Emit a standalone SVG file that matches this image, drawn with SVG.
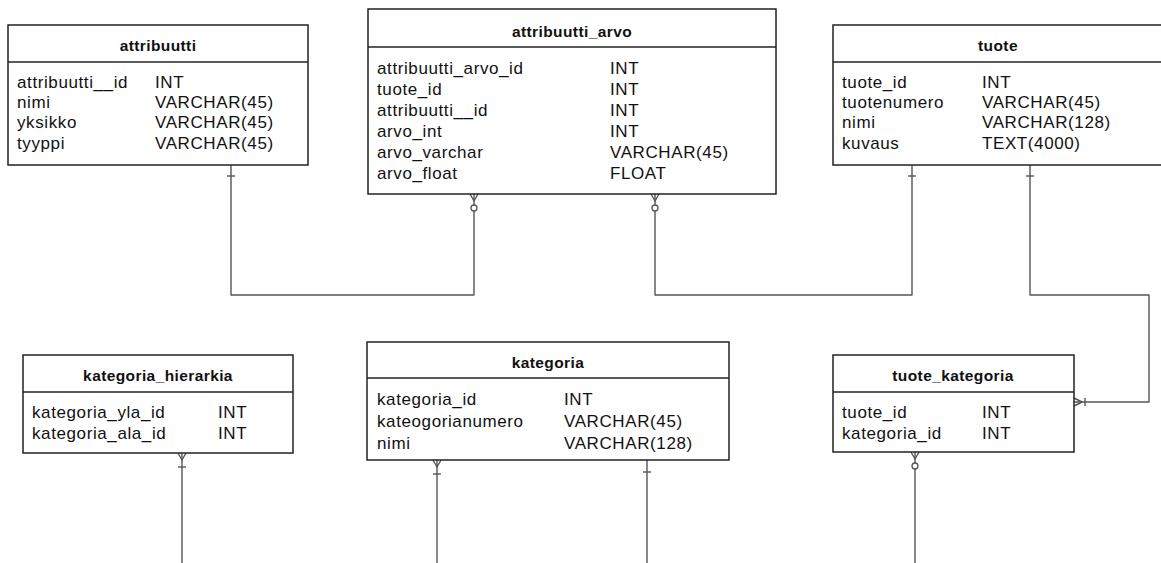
<svg xmlns="http://www.w3.org/2000/svg" width="1161" height="563" viewBox="0 0 1161 563">
  <style>
    .box { fill: #fff; stroke: #222; stroke-width: 1.5; }
    .sep { stroke: #222; stroke-width: 1.5; }
    .title { font-family: "Liberation Sans", Arial, sans-serif; font-size: 15.5px; font-weight: bold; fill: #111; text-anchor: middle; letter-spacing: 0.4px; }
    .row { font-family: "Liberation Sans", Arial, sans-serif; font-size: 17px; fill: #111; letter-spacing: 0.6px; }
    .rel { fill: none; stroke: #555; stroke-width: 1.4; stroke-linejoin: round; }
    .end { fill: #fff; stroke: #555; stroke-width: 1.3; }
  </style>

  <!-- relationships -->
  <g id="connectors">
    <!-- attribuutti 1 — N attribuutti_arvo -->
    <path class="rel" d="M231 165 V295 H474 V194"/>
    <path class="rel" d="M227 176 H235"/>
    <path class="rel" d="M470 194 L474 201 L478 194"/>
    <circle class="end" cx="474" cy="208" r="3"/>

    <!-- tuote 1 — N attribuutti_arvo -->
    <path class="rel" d="M912 165 V295 H655 V194"/>
    <path class="rel" d="M908 176 H916"/>
    <path class="rel" d="M651 194 L655 201 L659 194"/>
    <circle class="end" cx="655" cy="208" r="3"/>

    <!-- tuote 1 — N tuote_kategoria -->
    <path class="rel" d="M1030 165 V295 H1149 V402 H1074"/>
    <path class="rel" d="M1026 176 H1034"/>
    <path class="rel" d="M1074 398 L1082 402 L1074 406"/>
    <path class="rel" d="M1085 398 V406"/>

    <!-- kategoria_hierarkia -->
    <path class="rel" d="M182 453 V563"/>
    <path class="rel" d="M178 453 L182 460 L186 453"/>
    <path class="rel" d="M178 467 H186"/>

    <!-- kategoria (many side) -->
    <path class="rel" d="M437 460 V563"/>
    <path class="rel" d="M433 460 L437 467 L441 460"/>
    <path class="rel" d="M433 474 H441"/>

    <!-- kategoria (one side) -->
    <path class="rel" d="M647 460 V563"/>
    <path class="rel" d="M643 472 H651"/>

    <!-- tuote_kategoria -->
    <path class="rel" d="M915 452 V563"/>
    <path class="rel" d="M911 452 L915 459 L919 452"/>
    <circle class="end" cx="915" cy="466" r="3"/>
  </g>

  <!-- tables -->
  <g id="attribuutti">
    <rect class="box" x="8" y="25" width="300" height="140"/>
    <line class="sep" x1="8" y1="62" x2="308" y2="62"/>
    <text class="title" x="158" y="50.5">attribuutti</text>
    <text class="row" x="17" y="87.5">attribuutti__id</text>
    <text class="row" x="155" y="87.5">INT</text>
    <text class="row" x="17" y="108">nimi</text>
    <text class="row" x="155" y="108">VARCHAR(45)</text>
    <text class="row" x="17" y="128">yksikko</text>
    <text class="row" x="155" y="128">VARCHAR(45)</text>
    <text class="row" x="17" y="148.5">tyyppi</text>
    <text class="row" x="155" y="148.5">VARCHAR(45)</text>
  </g>

  <g id="attribuutti_arvo">
    <rect class="box" x="368" y="9" width="408" height="185"/>
    <line class="sep" x1="368" y1="47" x2="776" y2="47"/>
    <text class="title" x="572" y="37">attribuutti_arvo</text>
    <text class="row" x="377" y="74">attribuutti_arvo_id</text>
    <text class="row" x="610" y="74">INT</text>
    <text class="row" x="377" y="94.5">tuote_id</text>
    <text class="row" x="610" y="94.5">INT</text>
    <text class="row" x="377" y="115.5">attribuutti__id</text>
    <text class="row" x="610" y="115.5">INT</text>
    <text class="row" x="377" y="136.5">arvo_int</text>
    <text class="row" x="610" y="136.5">INT</text>
    <text class="row" x="377" y="157.5">arvo_varchar</text>
    <text class="row" x="610" y="157.5">VARCHAR(45)</text>
    <text class="row" x="377" y="179">arvo_float</text>
    <text class="row" x="610" y="179">FLOAT</text>
  </g>

  <g id="tuote">
    <rect class="box" x="833" y="25" width="331" height="140"/>
    <line class="sep" x1="833" y1="62" x2="1164" y2="62"/>
    <text class="title" x="998" y="50.5">tuote</text>
    <text class="row" x="842" y="87.5">tuote_id</text>
    <text class="row" x="982" y="87.5">INT</text>
    <text class="row" x="842" y="108">tuotenumero</text>
    <text class="row" x="982" y="108">VARCHAR(45)</text>
    <text class="row" x="842" y="128">nimi</text>
    <text class="row" x="982" y="128">VARCHAR(128)</text>
    <text class="row" x="842" y="148.5">kuvaus</text>
    <text class="row" x="982" y="148.5">TEXT(4000)</text>
  </g>

  <g id="kategoria_hierarkia">
    <rect class="box" x="23" y="355" width="270" height="98"/>
    <line class="sep" x1="23" y1="392" x2="293" y2="392"/>
    <text class="title" x="158" y="380.5">kategoria_hierarkia</text>
    <text class="row" x="32" y="417.5">kategoria_yla_id</text>
    <text class="row" x="218" y="417.5">INT</text>
    <text class="row" x="32" y="438.5">kategoria_ala_id</text>
    <text class="row" x="218" y="438.5">INT</text>
  </g>

  <g id="kategoria">
    <rect class="box" x="367" y="342" width="362" height="118"/>
    <line class="sep" x1="367" y1="378" x2="729" y2="378"/>
    <text class="title" x="548" y="367.5">kategoria</text>
    <text class="row" x="377" y="405">kategoria_id</text>
    <text class="row" x="564" y="405">INT</text>
    <text class="row" x="377" y="427">kateogorianumero</text>
    <text class="row" x="564" y="427">VARCHAR(45)</text>
    <text class="row" x="377" y="449">nimi</text>
    <text class="row" x="564" y="449">VARCHAR(128)</text>
  </g>

  <g id="tuote_kategoria">
    <rect class="box" x="833" y="355" width="241" height="97"/>
    <line class="sep" x1="833" y1="392" x2="1074" y2="392"/>
    <text class="title" x="953" y="380.5">tuote_kategoria</text>
    <text class="row" x="842" y="418">tuote_id</text>
    <text class="row" x="982" y="418">INT</text>
    <text class="row" x="842" y="439">kategoria_id</text>
    <text class="row" x="982" y="439">INT</text>
  </g>
</svg>
